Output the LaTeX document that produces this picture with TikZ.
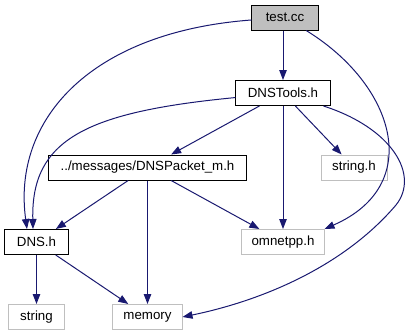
\documentclass[tikz,border=0pt]{standalone}
\usepackage{fontspec}
\setmainfont{Liberation Sans}
\usetikzlibrary{arrows.meta}
\definecolor{edgeblue}{HTML}{191970}
\definecolor{nodegray}{HTML}{BFBFBF}
\begin{document}
\begin{tikzpicture}[x={(1bp,0)}, y={(0,-1bp)},
  every node/.style={font=\fontsize{13.3bp}{16bp}\selectfont, inner sep=0pt, minimum height=25bp},
  filebox/.style={draw=black, line width=1bp, fill=white},
  rootbox/.style={draw=black, line width=1bp, fill=nodegray},
  sysbox/.style={draw=nodegray, line width=1bp, fill=white},
  dep/.style={draw=edgeblue, line width=1bp, -{Triangle[length=10bp, width=7.5bp]}}
]
\useasboundingbox (0,0) rectangle (413,336);

\node[rootbox, minimum width=66bp] (test) at (285,17.5) {test.cc};
\node[filebox, minimum width=94bp] (tools) at (283,93) {DNSTools.h};
\node[filebox, minimum width=197bp] (packet) at (147.5,167.5) {../messages/DNSPacket\_m.h};
\node[sysbox, minimum width=66bp] (strh) at (354,167.5) {string.h};
\node[filebox, minimum width=63bp] (dns) at (36.5,242) {DNS.h};
\node[sysbox, minimum width=82bp] (omnet) at (283,242) {omnetpp.h};
\node[sysbox, minimum width=55bp] (str) at (36.5,317) {string};
\node[sysbox, minimum width=69bp] (mem) at (147.5,317) {memory};

% direct includes
\draw[dep] (test.south -| tools) -- (tools);
\draw[dep] (tools) -- (packet);
\draw[dep] (tools) -- (strh);
\draw[dep] (tools) -- (omnet);
\draw[dep] (packet) -- (dns);
\draw[dep] (packet) -- (mem);
\draw[dep] (packet) -- (omnet);
\draw[dep] (dns) -- (str);
\draw[dep] (dns) -- (mem);

% long bent includes
\draw[dep] (test) .. controls (90,32) and (12,120) .. (dns.north west -| 27,229);
\draw[dep] (tools) .. controls (85,112) and (31,140) .. (dns.north -| 33,229);
\draw[dep] (test) .. controls (395,85) and (425,185) .. (omnet.north east);
\draw[dep] (tools) .. controls (392,128) and (420,175) .. (396,205)
  .. controls (345,265) and (265,300) .. (mem.east);
\end{tikzpicture}
\end{document}
